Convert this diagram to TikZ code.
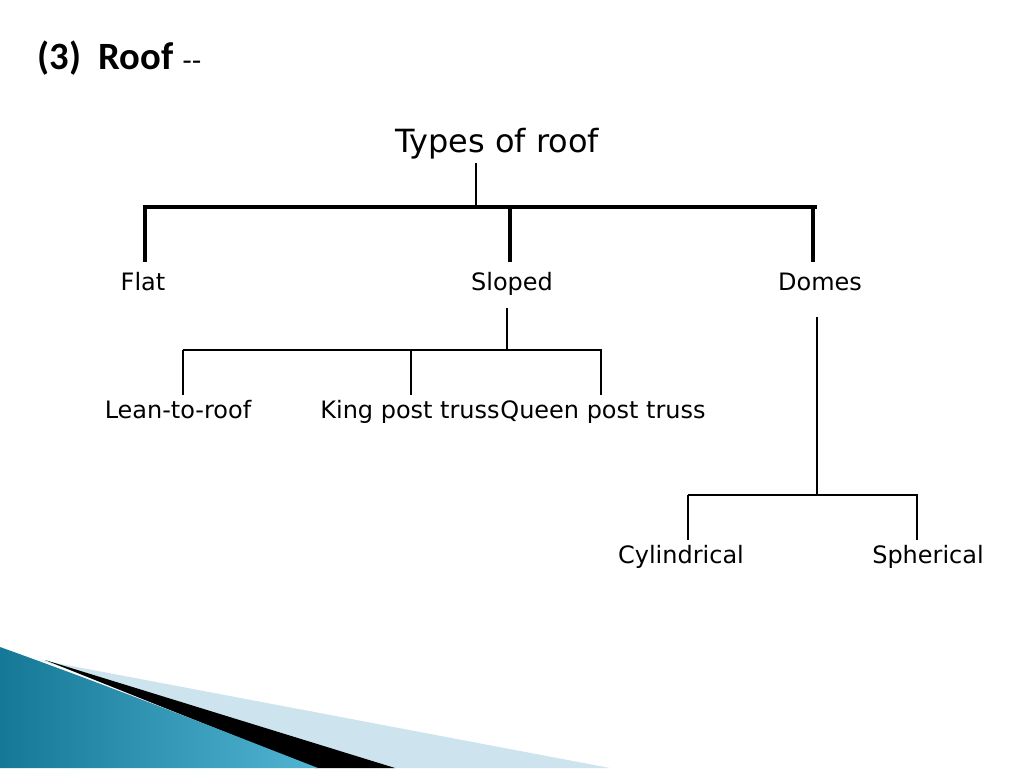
\documentclass[tikz,border=0pt]{standalone}
\usepackage{fontspec}
\setmainfont{DejaVu Sans}
\newfontfamily\titlefont{Carlito}
\usetikzlibrary{positioning}
\definecolor{teal1}{RGB}{20,120,150}
\definecolor{teal2}{RGB}{80,180,210}
\definecolor{paleblue}{RGB}{205,228,238}
\tikzset{
  label/.style={font=\fontsize{18}{21}\selectfont, anchor=base},
  thickbar/.style={line width=3.5pt},
  thinbar/.style={line width=1.5pt},
}
\begin{document}
\begin{tikzpicture}[x=0.0264cm, y=-0.0264cm]
        \useasboundingbox (0,0) rectangle (1024,768);
        % corner decoration
        \fill[paleblue] (40,660) -- (610,768) -- (380,768) -- cycle;
        \fill[black] (45,660) -- (395,768) -- (315,768) -- cycle;
        \shade[left color=teal1, right color=teal2] (0,647) .. controls (120,690) and (220,730) .. (318,768) -- (0,768) -- cycle;

        % title
        \node[anchor=base west, font=\titlefont\bfseries\fontsize{29}{34}\selectfont] (title) at (33,69) {(3)\ \ Roof {\normalfont\fontsize{20}{24}\selectfont -{}-}};

        \node[font=\fontsize{24}{28}\selectfont, anchor=base] (types) at (497,152) {Types of roof};
        \node[label] (flat) at (143,290) {Flat};
        \node[label] (sloped) at (512,290) {Sloped};
        \node[label] (domes) at (820,290) {Domes};
        \node[label] (lean) at (178,418) {Lean-to-roof};
        \node[label] (king) at (410,418) {King post truss};
        \node[label] (queen) at (603,418) {Queen post truss};
        \node[label] (cyl) at (681,563) {Cylindrical};
        \node[label] (sph) at (928,563) {Spherical};

        % first level
        \draw[thinbar] (476,163) -- (476,205);
        \draw[thickbar] (143,207) -- (817,207);
        \foreach \x in {145,510,813} \draw[thickbar] (\x,207) -- (\x,262);

        % sloped branch
        \draw[thinbar] (507,308) -- (507,350);
        \draw[line width=1pt] (183,350) -- (602,350);
        \foreach \x in {183,411,601} \draw[thinbar] (\x,350) -- (\x,395);

        % domes branch
        \draw[thinbar] (817,317) -- (817,495);
        \draw[thinbar] (688,495) -- (918,495);
        \foreach \x in {688,917} \draw[thinbar] (\x,495) -- (\x,540);
    \end{tikzpicture}
\end{document}
